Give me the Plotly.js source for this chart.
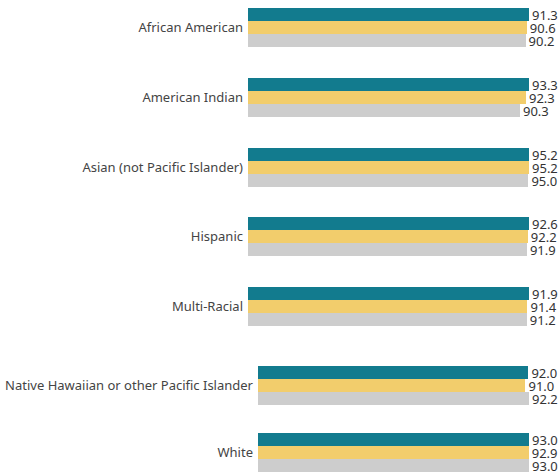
<!DOCTYPE html>
<html>
<head>
<meta charset="utf-8">
<script src="https://cdn.plot.ly/plotly-3.0.1.min.js"></script>
<style>
  html, body { margin: 0; padding: 0; background: #ffffff; }
  #chart { width: 558px; height: 472px; }
</style>
</head>
<body>
<div id="chart"></div>
<script>
// ---- data ----
const categories = [
  "African American",
  "American Indian",
  "Asian (not Pacific Islander)",
  "Hispanic",
  "Multi-Racial",
  "Native Hawaiian or other Pacific Islander",
  "White"
];
const series1 = [91.3, 93.3, 95.2, 92.6, 91.9, 92.0, 93.0];
const series2 = [90.6, 92.3, 95.2, 92.2, 91.4, 91.0, 92.9];
const series3 = [90.2, 90.3, 95.0, 91.9, 91.2, 92.2, 93.0];

// ---- layout (pixels) ----
const W = 558, H = 472;
const panelTop    = [8, 78, 148, 217, 287, 366, 433];
const panelHeight = 39;
const barLeft     = [248, 248, 248, 248, 248, 258, 258];
const barRight    = 529;
const colors = ["#127b8e", "#f2cd6c", "#cdcdcd"];
const seriesList = [series1, series2, series3];

const traces = [];
const layout = {
  width: W, height: H,
  margin: {l: 0, r: 0, t: 0, b: 0},
  paper_bgcolor: "#ffffff",
  plot_bgcolor: "#ffffff",
  showlegend: false,
  barmode: "group",
  bargap: 0,
  bargroupgap: 0,
  font: {family: "Noto Sans, sans-serif", size: 13, color: "#444444"}
};

categories.forEach((cat, i) => {
  const n = i + 1;
  const xa = n === 1 ? "x" : "x" + n;
  const ya = n === 1 ? "y" : "y" + n;
  const maxV = Math.max(series1[i], series2[i], series3[i]);
  seriesList.forEach((s, k) => {
    traces.push({
      type: "bar",
      orientation: "h",
      x: [s[i]],
      y: [cat],
      xaxis: xa,
      yaxis: ya,
      marker: {color: colors[k]},
      text: [s[i].toFixed(1)],
      textposition: "outside",
      constraintext: "none",
      cliponaxis: false,
      textfont: {family: "Noto Sans, sans-serif", size: 13, color: "#333333"},
      hoverinfo: "skip"
    });
  });
  const top = panelTop[i], bot = panelTop[i] + panelHeight;
  layout[n === 1 ? "xaxis" : "xaxis" + n] = {
    domain: [barLeft[i] / W, barRight / W],
    range: [0, maxV],
    anchor: ya,
    showgrid: false, zeroline: false, showticklabels: false, showline: false, ticks: ""
  };
  layout[n === 1 ? "yaxis" : "yaxis" + n] = {
    domain: [1 - bot / H, 1 - top / H],
    anchor: xa,
    type: "category",
    autorange: "reversed",
    showgrid: false, zeroline: false, showline: false, ticks: "",
    ticklabelstandoff: 4,
    tickfont: {family: "Noto Sans, sans-serif", size: 13, color: "#444444"}
  };
});

Plotly.newPlot("chart", traces, layout, {displayModeBar: false, staticPlot: true});
</script>
</body>
</html>
